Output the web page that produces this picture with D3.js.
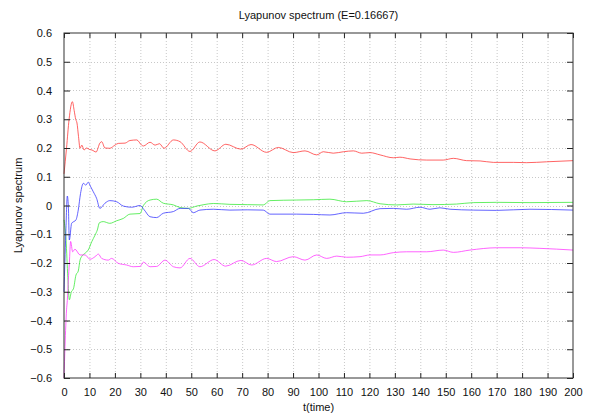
<!DOCTYPE html>
<html>
<head>
<meta charset="utf-8">
<script src="https://cdn.jsdelivr.net/npm/d3@7"></script>
<style>
  body { margin: 0; background: #fff; }
  text { font-family: "Liberation Sans", Arial, sans-serif; fill: #111; }
</style>
</head>
<body>
<div id="chart"></div>
<script>
// Lyapunov exponents as [t, value]
const lambda1 = [[0,0.11],[1,0.2],[2,0.3],[3.3,0.361],[4,0.33],[4.6,0.30],[5.1,0.287],[5.7,0.24],[6.3,0.199],[7,0.21],[7.9,0.193],[8.9,0.2],[10,0.195],[11,0.193],[12.6,0.186],[14.1,0.217],[14.8,0.222],[16.1,0.2],[18,0.199],[20,0.21],[21.3,0.216],[24,0.217],[25.9,0.226],[28.6,0.228],[30.5,0.21],[31.2,0.207],[33.8,0.22],[35.8,0.21],[37.5,0.215],[39.3,0.199],[43,0.228],[45.6,0.222],[49.5,0.188],[53.4,0.221],[59.3,0.19],[63.6,0.213],[69.5,0.196],[73.5,0.212],[79.6,0.185],[84.2,0.202],[90.1,0.184],[94.7,0.19],[99.3,0.176],[101.9,0.187],[105.8,0.182],[109.8,0.187],[113.7,0.19],[117,0.182],[120.2,0.184],[124.2,0.176],[129.4,0.166],[132,0.168],[136,0.162],[142.5,0.158],[149,0.158],[153,0.164],[158.2,0.156],[163.5,0.155],[168.7,0.15],[176.6,0.15],[181.8,0.149],[189.6,0.152],[200,0.156]];
const lambda2 = [[0,-0.3],[0.7,-0.1],[1.3,0.033],[1.7,0.0],[2.1,-0.12],[3,-0.062],[4.7,-0.05],[5.6,-0.016],[6.5,0.042],[7.6,0.077],[8.6,0.071],[9.5,0.081],[10.5,0.065],[11.5,0.048],[12.8,0.025],[14.1,-0.01],[16.1,0.008],[18,0.017],[20.7,0.013],[23.3,-0.002],[26.6,-0.006],[29.9,0.0],[31.5,-0.015],[33.8,-0.039],[36.4,-0.042],[39,-0.027],[43,-0.021],[45.6,-0.01],[48.9,-0.01],[50.8,-0.025],[53.4,-0.016],[58.7,-0.013],[65.2,-0.016],[72,-0.015],[78.3,-0.016],[80.9,-0.03],[91.4,-0.03],[98,-0.031],[104.5,-0.033],[111,-0.025],[117.6,-0.027],[124.2,-0.011],[129.4,-0.01],[134.6,-0.013],[139.9,-0.006],[143.8,-0.013],[147.7,-0.008],[151.7,-0.013],[160.8,-0.016],[170,-0.017],[183.1,-0.013],[200,-0.016]];
const lambda3 = [[0,-0.05],[0.8,-0.12],[1.5,-0.25],[2.1,-0.328],[2.9,-0.3],[3.7,-0.29],[4.7,-0.242],[5.6,-0.228],[6.3,-0.19],[6.9,-0.178],[8.3,-0.166],[9.5,-0.155],[10.9,-0.126],[12.2,-0.103],[13.1,-0.085],[13.9,-0.06],[15.4,-0.056],[18,-0.062],[20.7,-0.053],[23.3,-0.045],[25.9,-0.03],[29.9,-0.028],[31.2,0.0],[33.8,0.019],[36.4,0.022],[39,0.008],[43,0.002],[45.6,-0.007],[48.9,-0.01],[52.1,-0.002],[55,0.003],[58.7,0.007],[65.2,0.004],[72,0.003],[78.3,0.002],[80.9,0.017],[91.4,0.019],[98,0.02],[104.5,0.022],[111,0.013],[119,0.017],[124.2,0.006],[130.7,0.002],[137.2,0.005],[145,0.003],[154.2,0.005],[160.8,0.01],[170,0.011],[183.1,0.01],[200,0.011]];
const lambda4 = [[0,-0.6],[0.4,-0.49],[1.0,-0.363],[1.3,-0.33],[1.7,-0.259],[2.1,-0.2],[2.6,-0.125],[3.4,-0.161],[4.3,-0.152],[6.3,-0.172],[8.3,-0.172],[10.2,-0.187],[12.2,-0.178],[13.5,-0.169],[14.8,-0.184],[17.4,-0.19],[18.7,-0.184],[21.3,-0.201],[24.6,-0.207],[27.2,-0.213],[29.9,-0.212],[31.2,-0.197],[33.8,-0.213],[36.4,-0.212],[39.7,-0.19],[43,-0.213],[45.6,-0.217],[49.5,-0.184],[53.4,-0.213],[59,-0.188],[63.5,-0.211],[69.5,-0.191],[73.7,-0.207],[79.6,-0.184],[83.5,-0.195],[90.1,-0.178],[94.7,-0.19],[99.3,-0.172],[103.2,-0.184],[107.2,-0.176],[111,-0.18],[116.3,-0.178],[120.2,-0.172],[124.2,-0.172],[129.4,-0.164],[134.6,-0.161],[142.5,-0.161],[149,-0.155],[153,-0.163],[159.5,-0.155],[170,-0.147],[179.2,-0.147],[187,-0.149],[200,-0.155]];

const seriesColors = ["#ff3030", "#30e830", "#3030ff", "#ff30ff"];
const xTicks = d3.range(0, 201, 10);
const yTicks = d3.range(-6, 7).map(d => d / 10);

const width = 591, height = 415;
const margin = {top: 33, right: 18, bottom: 37, left: 64};

const svg = d3.select("#chart").append("svg")
    .attr("width", width)
    .attr("height", height);

const x = d3.scaleLinear().domain([0, 200]).range([margin.left, width - margin.right]);
const y = d3.scaleLinear().domain([-0.6, 0.6]).range([height - margin.bottom, margin.top]);

// grid
const grid = svg.append("g").attr("stroke", "#c8c8c8").attr("stroke-dasharray", "1,2");
xTicks.slice(1, -1).forEach(t =>
    grid.append("line").attr("x1", x(t) + 0.5).attr("x2", x(t) + 0.5)
        .attr("y1", y(-0.6)).attr("y2", y(0.6)));
yTicks.slice(1, -1).forEach(t =>
    grid.append("line").attr("y1", Math.round(y(t)) + 0.5).attr("y2", Math.round(y(t)) + 0.5)
        .attr("x1", x(0)).attr("x2", x(200)));

// lines
const line = d3.line()
    .x(d => x(d[0]))
    .y(d => y(d[1]))
    .curve(d3.curveMonotoneX);

[lambda1, lambda3, lambda2, lambda4].forEach((s, i) => {
    let c = [seriesColors[0], seriesColors[1], seriesColors[2], seriesColors[3]][i];
    svg.append("path")
        .datum(s)
        .attr("d", line)
        .attr("fill", "none")
        .attr("stroke", c)
        .attr("stroke-width", 1)
        .attr("stroke-opacity", 0.75);
});

// axes with inward ticks, mirrored
svg.append("g")
    .attr("transform", `translate(0,${y(-0.6)})`)
    .call(d3.axisBottom(x).tickValues(xTicks).tickSizeInner(-5).tickSizeOuter(0).tickPadding(10))
    .call(g => g.select(".domain").remove());
svg.append("g")
    .attr("transform", `translate(0,${y(0.6)})`)
    .call(d3.axisTop(x).tickValues(xTicks).tickSizeInner(-5).tickSizeOuter(0).tickFormat(""))
    .call(g => g.select(".domain").remove());
svg.append("g")
    .attr("transform", `translate(${x(0)},0)`)
    .call(d3.axisLeft(y).tickValues(yTicks).tickSizeInner(-6).tickSizeOuter(0).tickPadding(12)
        .tickFormat(d => d === 0 ? "0" : d3.format(".1f")(d)))
    .call(g => g.select(".domain").remove());
svg.append("g")
    .attr("transform", `translate(${x(200)},0)`)
    .call(d3.axisRight(y).tickValues(yTicks).tickSizeInner(-6).tickSizeOuter(0).tickFormat(""))
    .call(g => g.select(".domain").remove());

svg.selectAll(".tick line").attr("stroke", "#222");
svg.selectAll(".tick text").attr("font-size", 11).attr("fill", "#111")
    .attr("font-family", "'Liberation Sans', Arial, sans-serif");

// frame
svg.append("rect")
    .attr("x", x(0)).attr("y", y(0.6))
    .attr("width", x(200) - x(0)).attr("height", y(-0.6) - y(0.6))
    .attr("fill", "none").attr("stroke", "#333").attr("stroke-width", 1);

// labels
svg.append("text")
    .attr("x", (x(0) + x(200)) / 2).attr("y", 19)
    .attr("text-anchor", "middle").attr("font-size", 11)
    .text("Lyapunov spectrum (E=0.16667)");
svg.append("text")
    .attr("x", (x(0) + x(200)) / 2).attr("y", 411)
    .attr("text-anchor", "middle").attr("font-size", 11)
    .text("t(time)");
svg.append("text")
    .attr("transform", `translate(22,${(y(0.6) + y(-0.6)) / 2}) rotate(-90)`)
    .attr("text-anchor", "middle").attr("font-size", 11)
    .text("Lyapunov spectrum");
</script>
</body>
</html>
